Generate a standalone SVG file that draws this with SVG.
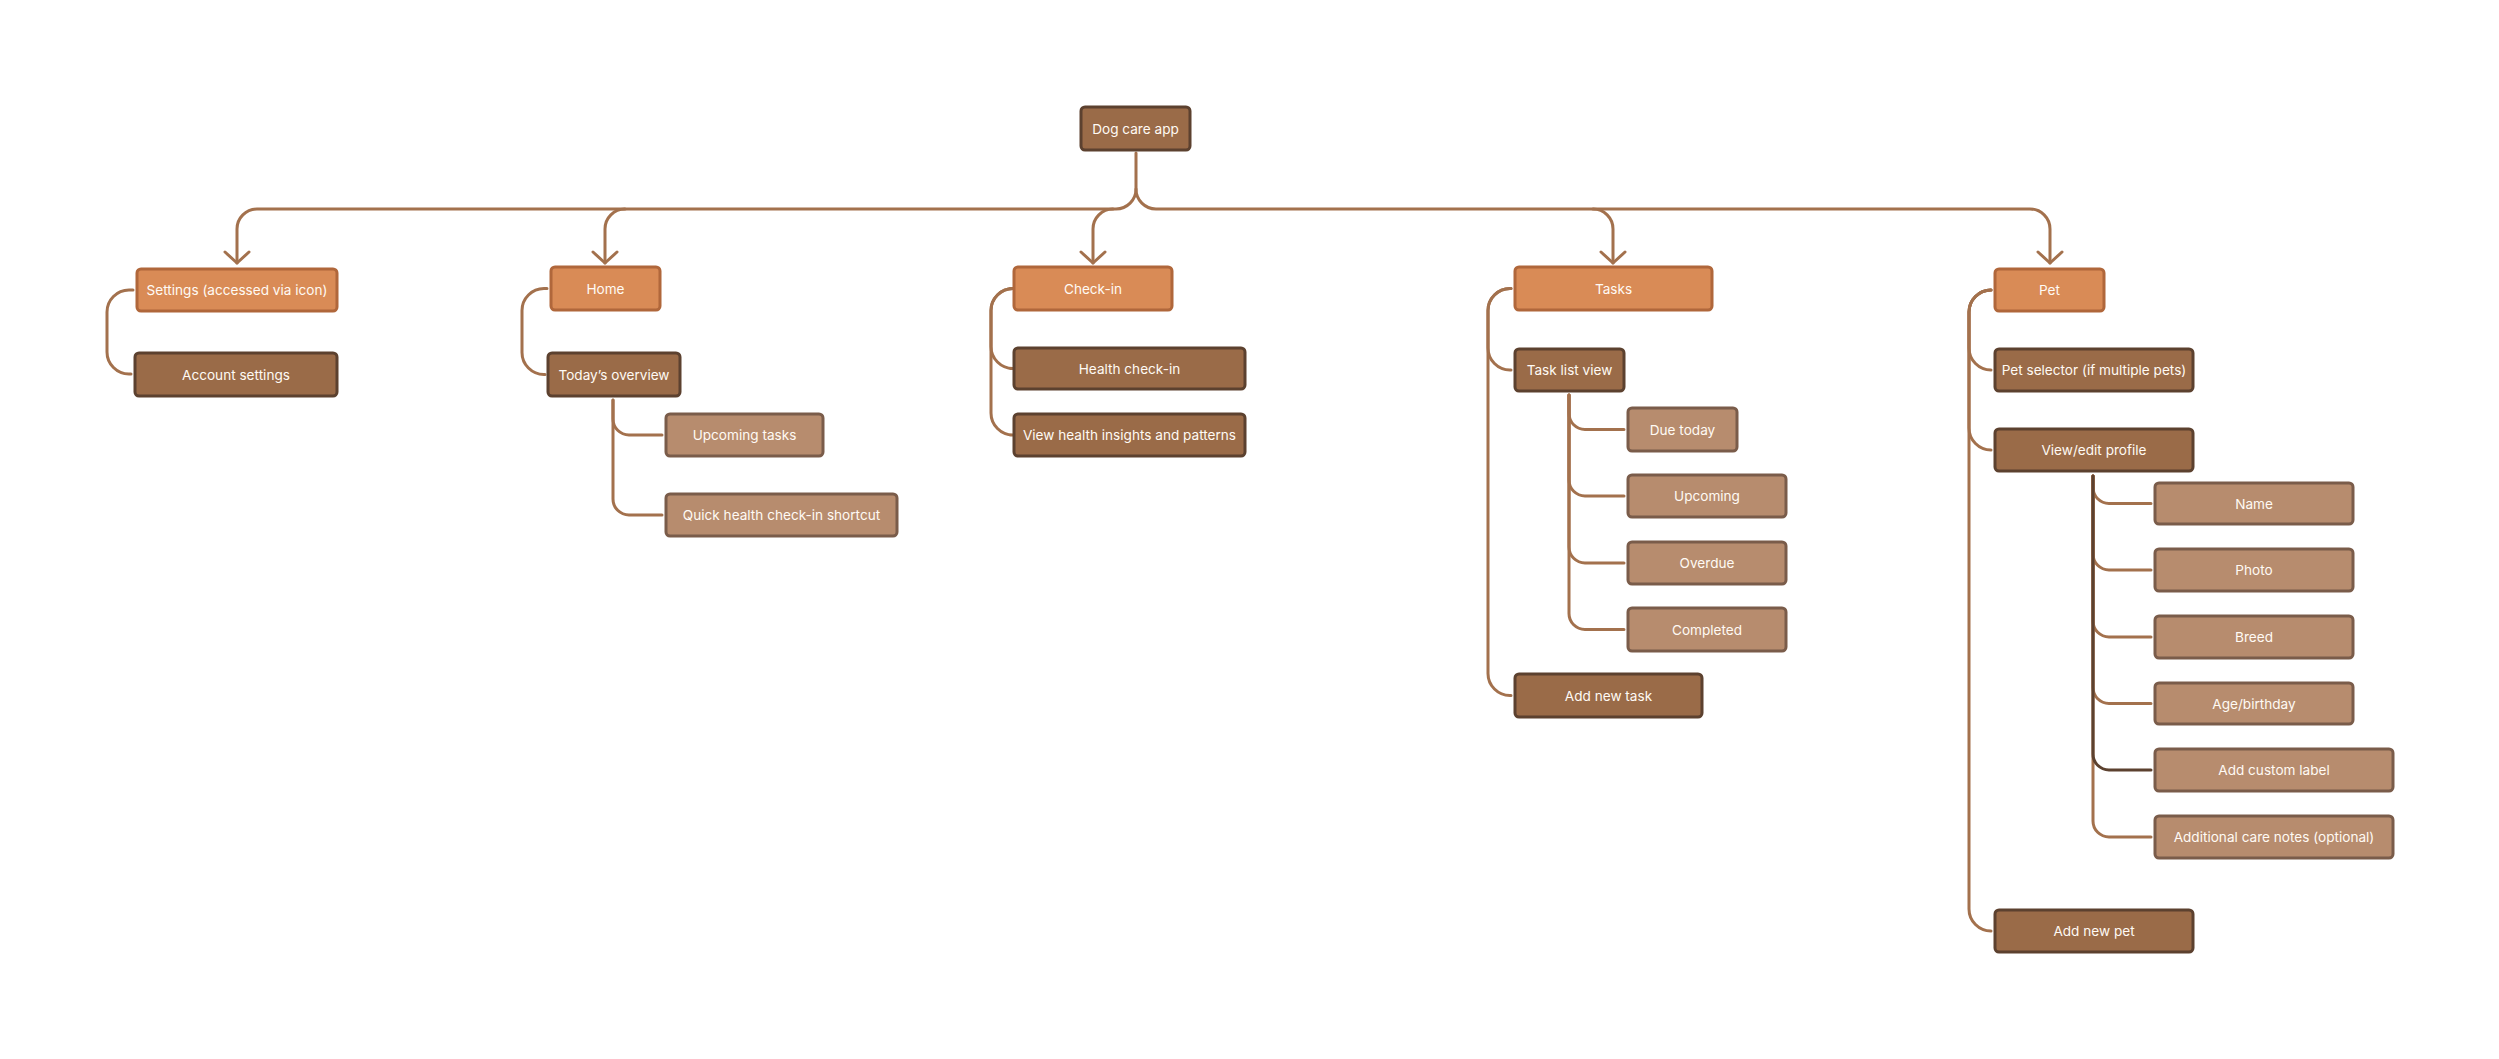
<svg xmlns="http://www.w3.org/2000/svg" width="2499" height="1059" viewBox="0 0 2499 1059">
<style>
.n rect{stroke-width:3}
.o rect{fill:#d98b56;stroke:#b0673b}
.d rect{fill:#9a6b48;stroke:#5c412f}
.l rect{fill:#b78c6e;stroke:#7a5c4a}
text{font-family:Inter,"Noto Sans","Liberation Sans",sans-serif;font-size:13.6px;fill:#fffaf4;text-anchor:middle;dominant-baseline:central}
.c path{fill:none;stroke:#a3714d;stroke-width:3;stroke-linecap:round;stroke-linejoin:round}
.c path.dk{stroke:#5c412f}
</style>
<defs>
<marker id="arr" markerUnits="userSpaceOnUse" markerWidth="30" markerHeight="30" viewBox="-15 -15 30 30" refX="0" refY="0" orient="auto">
<path d="M-11,-12 L0,0 L-11,12" fill="none" stroke="#a3714d" stroke-width="3" stroke-linecap="round" stroke-linejoin="round"/>
</marker>
</defs>
<rect width="2499" height="1059" fill="#ffffff"/>
<g id="connectors" class="c">
<path d="M1136,153 V189 A20,20 0 0 1 1116,209 H257 A20,20 0 0 0 237,229 V263" marker-end="url(#arr)"/>
<path d="M1136,189 A20,20 0 0 0 1156,209 H2030 A20,20 0 0 1 2050,229 V263" marker-end="url(#arr)"/>
<path d="M625,209 A20,20 0 0 0 605,229 V263" marker-end="url(#arr)"/>
<path d="M1113,209 A20,20 0 0 0 1093,229 V263" marker-end="url(#arr)"/>
<path d="M1593,209 A20,20 0 0 1 1613,229 V263" marker-end="url(#arr)"/>
<path d="M133,290 H129 A22,22 0 0 0 107,312 V352 A22,22 0 0 0 129,374 H131"/>
<path d="M547,288.5 H544 A22,22 0 0 0 522,310.5 V352.5 A22,22 0 0 0 544,374.5 H545"/>
<path d="M1010,288.5 H1013 A22,22 0 0 0 991,310.5 V346.5 A22,22 0 0 0 1013,368.5 H1010"/>
<path d="M1010,288.5 H1013 A22,22 0 0 0 991,310.5 V413 A22,22 0 0 0 1013,435 H1010"/>
<path d="M1511,288.5 H1510 A22,22 0 0 0 1488,310.5 V348 A22,22 0 0 0 1510,370 H1511"/>
<path d="M1511,288.5 H1510 A22,22 0 0 0 1488,310.5 V673.5 A22,22 0 0 0 1510,695.5 H1511"/>
<path d="M1991,290 A22,22 0 0 0 1969,312 V348 A22,22 0 0 0 1991,370"/>
<path d="M1991,290 A22,22 0 0 0 1969,312 V428 A22,22 0 0 0 1991,450"/>
<path d="M1991,290 A22,22 0 0 0 1969,312 V909 A22,22 0 0 0 1991,931"/>
<path d="M613,400 V419 A16,16 0 0 0 629,435 H662"/>
<path d="M613,400 V499 A16,16 0 0 0 629,515 H662"/>
<path d="M1569,395 V413.5 A16,16 0 0 0 1585,429.5 H1624"/>
<path d="M1569,395 V480 A16,16 0 0 0 1585,496 H1624"/>
<path d="M1569,395 V547 A16,16 0 0 0 1585,563 H1624"/>
<path d="M1569,395 V613.5 A16,16 0 0 0 1585,629.5 H1624"/>
<path d="M2093,476 V487.5 A16,16 0 0 0 2109,503.5 H2151"/>
<path d="M2093,476 V554 A16,16 0 0 0 2109,570 H2151"/>
<path d="M2093,476 V621 A16,16 0 0 0 2109,637 H2151"/>
<path d="M2093,476 V687.5 A16,16 0 0 0 2109,703.5 H2151"/>
<path d="M2093,476 V821 A16,16 0 0 0 2109,837 H2151"/>
<path class="dk" d="M2093,476 V754 A16,16 0 0 0 2109,770 H2151"/>
</g>
<g id="root" class="n d"><rect x="1081" y="107" width="109" height="43" rx="4"/><text x="1135.5" y="128.5">Dog care app</text></g>
<g id="settings" class="n o"><rect x="137" y="269" width="200" height="42" rx="4"/><text x="237" y="290">Settings (accessed via icon)</text></g>
<g id="account-settings" class="n d"><rect x="135" y="353" width="202" height="43" rx="4"/><text x="236" y="374.5">Account settings</text></g>
<g id="home" class="n o"><rect x="551" y="267" width="109" height="43" rx="4"/><text x="605.5" y="288.5">Home</text></g>
<g id="todays-overview" class="n d"><rect x="548" y="353" width="132" height="43" rx="4"/><text x="614" y="374.5">Today’s overview</text></g>
<g id="upcoming-tasks" class="n l"><rect x="666" y="414" width="157" height="42" rx="4"/><text x="744.5" y="435">Upcoming tasks</text></g>
<g id="quick-health" class="n l"><rect x="666" y="494" width="231" height="42" rx="4"/><text x="781.5" y="515">Quick health check-in shortcut</text></g>
<g id="check-in" class="n o"><rect x="1014" y="267" width="158" height="43" rx="4"/><text x="1093" y="288.5">Check-in</text></g>
<g id="health-check-in" class="n d"><rect x="1014" y="348" width="231" height="41" rx="4"/><text x="1129.5" y="368.5">Health check-in</text></g>
<g id="view-health" class="n d"><rect x="1014" y="414" width="231" height="42" rx="4"/><text x="1129.5" y="435">View health insights and patterns</text></g>
<g id="tasks" class="n o"><rect x="1515" y="267" width="197" height="43" rx="4"/><text x="1613.5" y="288.5">Tasks</text></g>
<g id="task-list-view" class="n d"><rect x="1515" y="349" width="109" height="42" rx="4"/><text x="1569.5" y="370">Task list view</text></g>
<g id="due-today" class="n l"><rect x="1628" y="408" width="109" height="43" rx="4"/><text x="1682.5" y="429.5">Due today</text></g>
<g id="upcoming" class="n l"><rect x="1628" y="475" width="158" height="42" rx="4"/><text x="1707" y="496">Upcoming</text></g>
<g id="overdue" class="n l"><rect x="1628" y="542" width="158" height="42" rx="4"/><text x="1707" y="563">Overdue</text></g>
<g id="completed" class="n l"><rect x="1628" y="608" width="158" height="43" rx="4"/><text x="1707" y="629.5">Completed</text></g>
<g id="add-new-task" class="n d"><rect x="1515" y="674" width="187" height="43" rx="4"/><text x="1608.5" y="695.5">Add new task</text></g>
<g id="pet" class="n o"><rect x="1995" y="269" width="109" height="42" rx="4"/><text x="2049.5" y="290">Pet</text></g>
<g id="pet-selector" class="n d"><rect x="1995" y="349" width="198" height="42" rx="4"/><text x="2094" y="370">Pet selector (if multiple pets)</text></g>
<g id="view-edit-profile" class="n d"><rect x="1995" y="429" width="198" height="42" rx="4"/><text x="2094" y="450">View/edit profile</text></g>
<g id="name" class="n l"><rect x="2155" y="483" width="198" height="41" rx="4"/><text x="2254" y="503.5">Name</text></g>
<g id="photo" class="n l"><rect x="2155" y="549" width="198" height="42" rx="4"/><text x="2254" y="570">Photo</text></g>
<g id="breed" class="n l"><rect x="2155" y="616" width="198" height="42" rx="4"/><text x="2254" y="637">Breed</text></g>
<g id="age-birthday" class="n l"><rect x="2155" y="683" width="198" height="41" rx="4"/><text x="2254" y="703.5">Age/birthday</text></g>
<g id="add-custom-label" class="n l"><rect x="2155" y="749" width="238" height="42" rx="4"/><text x="2274" y="770">Add custom label</text></g>
<g id="additional-care-notes" class="n l"><rect x="2155" y="816" width="238" height="42" rx="4"/><text x="2274" y="837">Additional care notes (optional)</text></g>
<g id="add-new-pet" class="n d"><rect x="1995" y="910" width="198" height="42" rx="4"/><text x="2094" y="931">Add new pet</text></g>
</svg>
